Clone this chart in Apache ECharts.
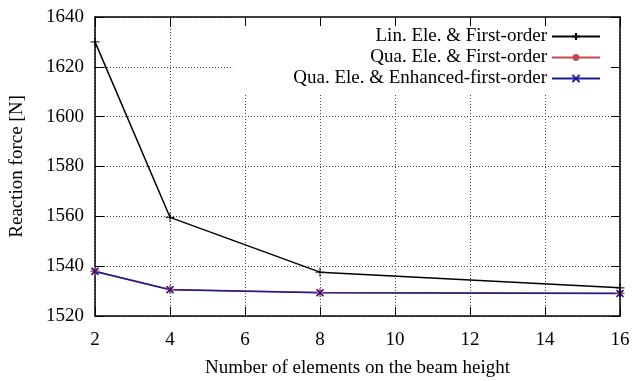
<!DOCTYPE html>
<html>
<head>
<meta charset="utf-8">
<script src="https://cdn.jsdelivr.net/npm/echarts@6/dist/echarts.min.js"></script>
<style>
html, body { margin: 0; padding: 0; background: #fff; }
#chart { width: 634px; height: 381px; }
</style>
</head>
<body>
<div id="chart"></div>
<script>
let elements = [2, 4, 8, 16];
let linFirst = [1630, 1559.6, 1537.6, 1531.3];
let quaFirst = [1538, 1530.6, 1529.4, 1529.1];
let quaEnhanced = [1537.9, 1530.5, 1529.3, 1529.0];
let names = ['Lin. Ele. & First-order', 'Qua. Ele. & First-order', 'Qua. Ele. & Enhanced-first-order'];

let font = 'Liberation Serif';
let plus = 'path://M0,-1L0,1M-1,0L1,0';
let cross = 'path://M-1,-1L1,1M-1,1L1,-1';
let star = 'path://M0,-1L0,1M-1,0L1,0M-0.7,-0.7L0.7,0.7M-0.7,0.7L0.7,-0.7';

function pairs(ys) {
    return elements.map((x, i) => [x, ys[i]]);
}

let myChart = echarts.init(document.getElementById('chart'));

let tickOnly = {
    axisLine: { show: true, lineStyle: { color: '#000', width: 1.5 } },
    axisTick: { show: true, inside: true, length: 9, lineStyle: { color: '#000', width: 1 } },
    axisLabel: { show: false },
    splitLine: { show: false }
};

option = {
    animation: false,
    textStyle: { fontFamily: font },
    grid: { left: 95, right: 14, top: 17, bottom: 65, outerBoundsMode: 'none' },
    legend: {
        orient: 'vertical',
        right: 14,
        top: 17,
        align: 'right',
        itemWidth: 48,
        itemHeight: 9,
        itemGap: 0,
        padding: [9, 19, 4, 60],
        backgroundColor: '#fff',
        z: 5,
        textStyle: { fontFamily: font, fontSize: 19, color: '#000', lineHeight: 21 },
        data: names
    },
    xAxis: [{
        type: 'value',
        min: 2,
        max: 16,
        interval: 2,
        name: 'Number of elements on the beam height',
        nameLocation: 'middle',
        nameGap: 43,
        nameTextStyle: { fontFamily: font, fontSize: 19, color: '#000' },
        axisLine: { show: true, lineStyle: { color: '#000', width: 1.5 } },
        axisTick: { show: true, inside: true, length: 9, lineStyle: { color: '#000' } },
        axisLabel: { fontFamily: font, fontSize: 19, color: '#000', margin: 15 },
        splitLine: { show: true, lineStyle: { color: '#444', type: [1, 2], width: 1 } }
    }, Object.assign({
        type: 'value', position: 'top', min: 2, max: 16, interval: 2, z: 10
    }, tickOnly)],
    yAxis: [{
        type: 'value',
        min: 1520,
        max: 1640,
        interval: 20,
        name: 'Reaction force [N]',
        nameLocation: 'middle',
        nameGap: 68,
        nameTextStyle: { fontFamily: font, fontSize: 19, color: '#000' },
        axisLine: { show: true, lineStyle: { color: '#000', width: 1.5 } },
        axisTick: { show: true, inside: true, length: 9, lineStyle: { color: '#000' } },
        axisLabel: { fontFamily: font, fontSize: 19, color: '#000', margin: 11, formatter: v => String(v) },
        splitLine: { show: true, lineStyle: { color: '#444', type: [1, 2], width: 1 } }
    }, Object.assign({
        type: 'value', position: 'right', min: 1520, max: 1640, interval: 20, z: 10
    }, tickOnly)],
    series: [{
        name: names[0],
        type: 'line',
        data: pairs(linFirst),
        symbol: plus,
        symbolSize: 9,
        itemStyle: { color: '#000', borderColor: '#000', borderWidth: 1 },
        lineStyle: { color: '#000', width: 1.5 }
    }, {
        name: names[1],
        type: 'line',
        data: pairs(quaFirst),
        symbol: star,
        symbolSize: 9,
        itemStyle: { color: '#c44a4a', borderColor: '#c44a4a', borderWidth: 1.5 },
        lineStyle: { color: '#c44a4a', width: 1.5 }
    }, {
        name: names[2],
        type: 'line',
        data: pairs(quaEnhanced),
        symbol: cross,
        symbolSize: 7,
        itemStyle: { color: '#1a1a9a', borderColor: '#1a1a9a', borderWidth: 1.5 },
        lineStyle: { color: '#1a1a9a', width: 1.5 }
    }]
};

myChart.setOption(option);
</script>
</body>
</html>
